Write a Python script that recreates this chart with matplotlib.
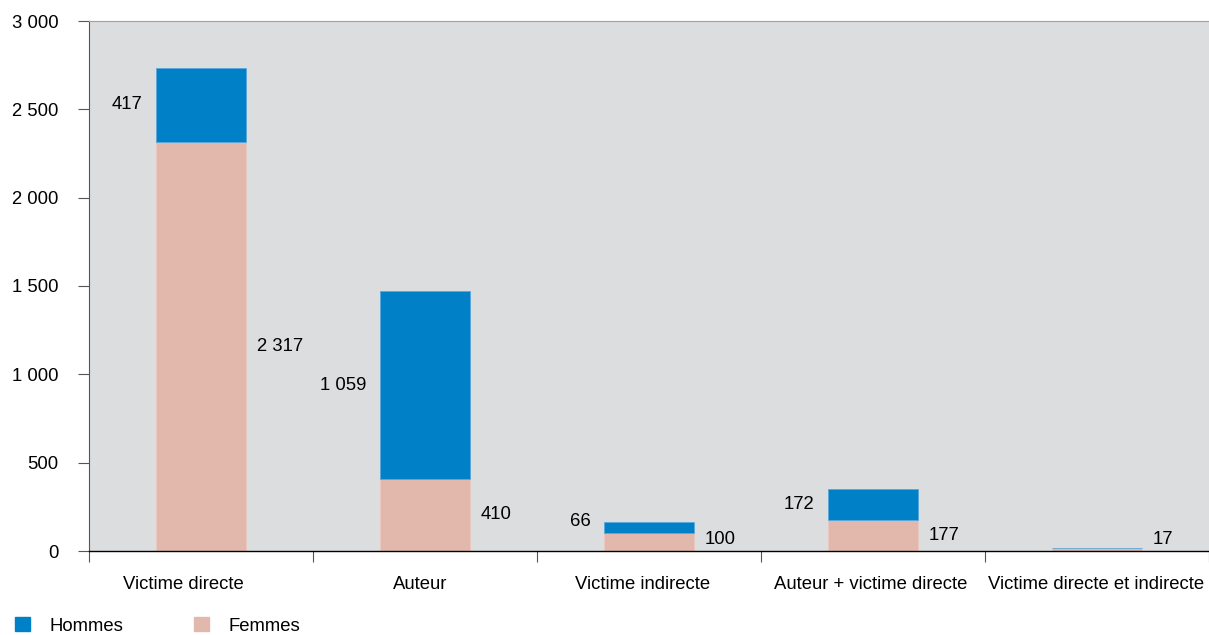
import matplotlib.pyplot as plt
import numpy as np
from matplotlib.patches import Patch
from matplotlib.ticker import FuncFormatter

plt.rcParams['font.family'] = ['Liberation Sans', 'DejaVu Sans']

categories = ['Victime directe', 'Auteur', 'Victime indirecte',
              'Auteur + victime directe', 'Victime directe et indirecte']
femmes = [2317, 410, 100, 177, 17]
hommes = [417, 1059, 66, 172, 0]

# decalage des libelles de categorie (en fraction de categorie)
label_shift = [-0.08, -0.022, -0.03, -0.01, -0.004]

col_h = '#0080c6'
col_f = '#e3b8ac'
fs = 13.3


def fmt(v):
    return f'{v:,}'.replace(',', ' ')


fig = plt.figure(figsize=(12.09, 6.35), dpi=100)
ax = fig.add_axes([89 / 1209, 84 / 635, 1 - 89 / 1209, 530 / 635])
ax.set_facecolor('#dcdddf')

x = np.arange(len(categories)) + 0.5
w = 0.4
ax.bar(x, femmes, w, color=col_f, edgecolor='#ecc9bf', linewidth=0.6)
ax.bar(x, hommes, w, bottom=femmes, color=col_h, edgecolor='#5aa8dc', linewidth=0.6)

# etiquettes
for xi, f, h in zip(x, femmes, hommes):
    ax.text(xi + w / 2 + 0.05, max(f / 2, 65), fmt(f), ha='left', va='center', fontsize=fs)
    if h > 0:
        ax.text(xi - w / 2 - 0.062, f + max(h / 2, 65), fmt(h), ha='right', va='center', fontsize=fs)

ax.set_xlim(0, len(categories))
ax.set_ylim(0, 3000)
ax.set_yticks(np.arange(0, 3001, 500))
ax.yaxis.set_major_formatter(FuncFormatter(lambda v, p: fmt(int(v))))
ax.tick_params(axis='y', length=8, width=0.8, color='#555555', pad=14, labelsize=fs)

ax.set_xticks(x + np.array(label_shift))
ax.set_xticklabels(categories)
ax.tick_params(axis='x', which='major', length=0, pad=18, labelsize=fs)
ax.set_xticks(np.arange(0, len(categories) + 1), minor=True)
ax.tick_params(axis='x', which='minor', length=8, width=0.8, color='#555555')

ax.spines['top'].set_color('#a0a0a0')
ax.spines['top'].set_linewidth(0.8)
ax.spines['right'].set_visible(False)
ax.spines['left'].set_color('#555555')
ax.spines['left'].set_linewidth(0.8)
ax.spines['bottom'].set_color('black')
ax.spines['bottom'].set_linewidth(1.0)

handles = [Patch(color=col_h, label='Hommes'), Patch(color=col_f, label='Femmes')]
fig.legend(handles=handles, loc='lower left', bbox_to_anchor=(6 / 1209, -9 / 635),
           ncol=2, frameon=False, fontsize=fs, handlelength=0.8, handleheight=0.8,
           handletextpad=1.08, columnspacing=3.8, borderpad=0)

fig.savefig('out.png', dpi=100)
